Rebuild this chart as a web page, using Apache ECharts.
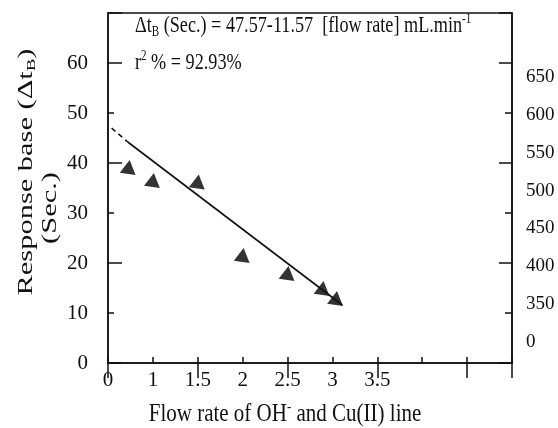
<!DOCTYPE html>
<html>
<head>
<meta charset="utf-8">
<script src="https://cdn.jsdelivr.net/npm/echarts@6/dist/echarts.min.js"></script>
<style>
  html, body { margin: 0; padding: 0; background: #fff; }
  #chart { width: 558px; height: 428px; }
</style>
</head>
<body>
<div id="chart"></div>
<script>
// measured points (flow rate vs response base)
var flowRate = [0.73, 1.0, 1.5, 2.0, 2.5, 2.89, 3.04];
var responseBase = [39.2, 36.6, 36.3, 21.6, 18.0, 15.0, 13.0];

// fitted line: dashed start, then solid
var fitX = [0.54, 0.72, 3.11];
var fitY = [47.0, 44.2, 11.6];

// tick labels as printed in the figure
var xTickValues = [0.5, 1, 1.5, 2, 2.5, 3, 3.5];
var xTickLabels = ['0', '1', '1.5', '2', '2.5', '3', '3.5'];
var leftTickLabels = ['0', '10', '20', '30', '40', '50', '60'];
var rightTickLabels = ['0', '350', '400', '450', '500', '550', '600', '650'];

var serif = 'Liberation Serif';
var ink = '#111';

var chart = echarts.init(document.getElementById('chart'));

function xLabel(v) {
  for (var i = 0; i < xTickValues.length; i++) {
    if (Math.abs(xTickValues[i] - v) < 1e-6) return xTickLabels[i];
  }
  return '';
}

var thinTick = function (len) {
  return { show: true, inside: true, length: len, lineStyle: { color: ink, width: 1.5 } };
};

// rich text styles: normal, sub, sup
function richSet(size) {
  var lh = Math.round(size * 1.2);
  return {
    n: { fontFamily: serif, fontSize: size, fill: ink, lineHeight: lh },
    s: { fontFamily: serif, fontSize: Math.round(size * 0.62), fill: ink, lineHeight: lh, verticalAlign: 'bottom' },
    p: { fontFamily: serif, fontSize: Math.round(size * 0.62), fill: ink, lineHeight: lh, verticalAlign: 'top' }
  };
}

chart.setOption({
  animation: false,
  grid: [
    { left: 108, right: 46, top: 13, bottom: 65, show: true, borderColor: ink, borderWidth: 1.5 },
    { left: 108, right: 46, top: 77, bottom: 86 }
  ],
  xAxis: [
    {
      type: 'value', min: 0.5, max: 5, interval: 0.5,
      axisLine: { lineStyle: { color: ink, width: 1.5 } },
      axisTick: thinTick(6),
      splitLine: { show: false },
      axisLabel: { formatter: xLabel, color: ink, fontFamily: serif, fontSize: 21, margin: 7 }
    },
    {
      // long ticks at 0.5, 1.5, 2.5 ...
      type: 'value', min: 0, max: 4.5, interval: 1,
      axisLine: { show: false }, axisTick: thinTick(15),
      axisLabel: { show: false }, splitLine: { show: false }
    },
    { type: 'value', gridIndex: 1, show: false, min: 0, max: 1 }
  ],
  yAxis: [
    {
      type: 'value', min: 0, max: 70, interval: 10,
      axisLine: { show: true, lineStyle: { color: ink, width: 1.5 } },
      axisTick: thinTick(6),
      splitLine: { show: false },
      axisLabel: {
        formatter: function (v) { return leftTickLabels[v / 10] || ''; },
        color: ink, fontFamily: serif, fontSize: 21, margin: 20
      }
    },
    {
      type: 'value', min: 0, max: 70, interval: 20, position: 'left',
      axisLine: { show: false }, axisTick: thinTick(14),
      axisLabel: { show: false }, splitLine: { show: false }
    },
    {
      type: 'value', min: 0, max: 70, interval: 10, position: 'right',
      axisLine: { show: true, lineStyle: { color: ink, width: 1.5 } },
      axisTick: thinTick(7),
      axisLabel: { show: false }, splitLine: { show: false }
    },
    {
      type: 'value', min: 0, max: 70, interval: 20, position: 'right',
      axisLine: { show: false }, axisTick: thinTick(13),
      axisLabel: { show: false }, splitLine: { show: false }
    },
    {
      // right-hand labels, spaced on their own
      type: 'value', gridIndex: 1, min: 0, max: 7, interval: 1, position: 'right',
      axisLine: { show: false }, axisTick: { show: false }, splitLine: { show: false },
      axisLabel: {
        formatter: function (v) { return rightTickLabels[v] || ''; },
        color: ink, fontFamily: serif, fontSize: 19, margin: 14
      }
    }
  ],
  graphic: [
    {
      type: 'text', x: 135, y: 26, scaleY: 1.25,
      style: {
        text: '{n|Δt}{s|B}{n| (Sec.) = 47.57-11.57  [flow rate] mL.min}{p|-1}',
        verticalAlign: 'middle',
        rich: richSet(18.2)
      }
    },
    {
      type: 'text', x: 135, y: 63, scaleY: 1.25,
      style: {
        text: '{n|r}{p|2}{n| % = 92.93%}',
        verticalAlign: 'middle',
        rich: richSet(18.2)
      }
    },
    {
      type: 'text', x: 26, y: 172, rotation: Math.PI / 2, scaleX: 1.45,
      style: {
        text: '{n|Response base (Δt}{s|B}{n|)}',
        align: 'center', verticalAlign: 'middle',
        rich: richSet(21)
      }
    },
    {
      type: 'text', x: 50, y: 208, rotation: Math.PI / 2, scaleX: 1.45,
      style: { text: '(Sec.)', align: 'center', verticalAlign: 'middle', fontFamily: serif, fontSize: 21, fill: ink }
    },
    {
      type: 'text', x: 285, y: 414, scaleY: 1.2,
      style: {
        text: '{n|Flow rate of OH}{p|-}{n| and Cu(II) line}',
        align: 'center', verticalAlign: 'middle',
        rich: richSet(21)
      }
    }
  ],
  series: [
    {
      type: 'line', xAxisIndex: 0, yAxisIndex: 0, symbol: 'none',
      data: [[fitX[0], fitY[0]], [fitX[1], fitY[1]]],
      lineStyle: { color: ink, width: 1.6, type: [5, 4] }
    },
    {
      type: 'line', xAxisIndex: 0, yAxisIndex: 0, symbol: 'none',
      data: [[fitX[1], fitY[1]], [fitX[2], fitY[2]]],
      lineStyle: { color: ink, width: 1.6 }
    },
    {
      type: 'scatter', xAxisIndex: 0, yAxisIndex: 0,
      symbol: 'triangle', symbolSize: [16, 14], symbolRotate: -8,
      itemStyle: { color: '#000' },
      data: flowRate.map(function (x, i) { return [x, responseBase[i]]; })
    }
  ]
});
</script>
</body>
</html>
